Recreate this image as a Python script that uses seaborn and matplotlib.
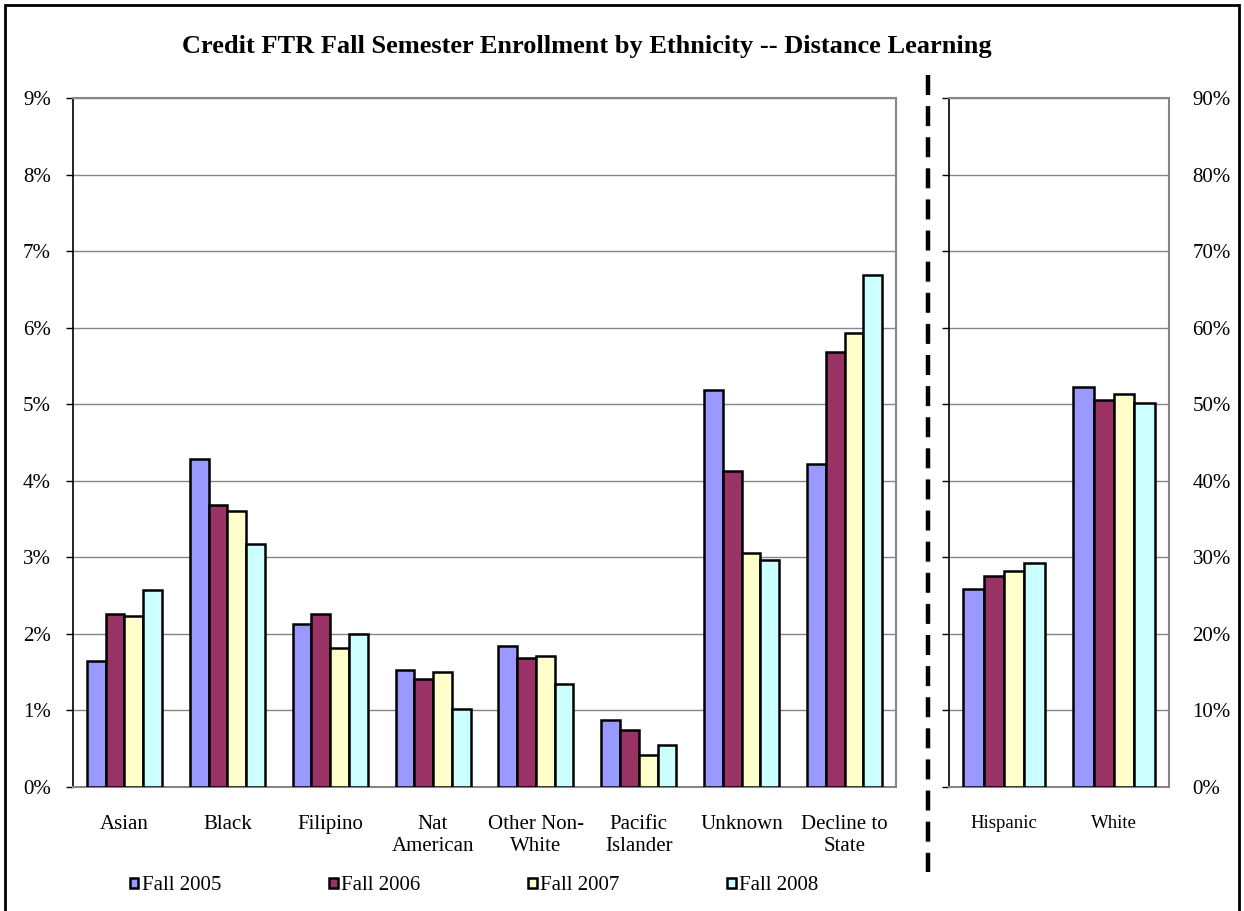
import numpy as np
import pandas as pd
import seaborn as sns
import matplotlib.pyplot as plt
from matplotlib.ticker import PercentFormatter
from matplotlib.patches import Patch, Rectangle
from matplotlib.lines import Line2D

# data (percent of enrollment)
years = ['Fall 2005', 'Fall 2006', 'Fall 2007', 'Fall 2008']
colors = ['#9999FF', '#993366', '#FFFFCC', '#CCFFFF']

cats_left = ['Asian', 'Black', 'Filipino', 'Nat\nAmerican', 'Other Non-\nWhite',
             'Pacific\nIslander', 'Unknown', 'Decline to\nState']
f2005 = [1.65, 4.28, 2.13, 1.53, 1.84, 0.87, 5.18, 4.22]
f2006 = [2.26, 3.68, 2.26, 1.41, 1.68, 0.74, 4.13, 5.68]
f2007 = [2.23, 3.61, 1.81, 1.50, 1.71, 0.42, 3.06, 5.93]
f2008 = [2.57, 3.17, 2.00, 1.02, 1.34, 0.55, 2.96, 6.69]

cats_right = ['Hispanic', 'White']
r2005 = [25.9, 52.2]
r2006 = [27.5, 50.5]
r2007 = [28.2, 51.3]
r2008 = [29.3, 50.1]


def long_df(cats, series):
    rows = []
    for yr, vals in zip(years, series):
        for c, v in zip(cats, vals):
            rows.append({'cat': c, 'year': yr, 'val': v})
    return pd.DataFrame(rows)


df_left = long_df(cats_left, [f2005, f2006, f2007, f2008])
df_right = long_df(cats_right, [r2005, r2006, r2007, r2008])

sns.set_style('white')
plt.rcParams['font.family'] = ['Liberation Serif', 'DejaVu Serif']
plt.rcParams['text.color'] = 'black'
plt.rcParams['xtick.color'] = 'black'
plt.rcParams['ytick.color'] = 'black'
plt.rcParams['xtick.labelcolor'] = 'black'
plt.rcParams['ytick.labelcolor'] = 'black'

grid_c = '#868686'
W, H = 1244, 911
fig = plt.figure(figsize=(W / 100, H / 100), dpi=100)

ax1 = fig.add_axes([73 / W, 1 - 787 / H, (896 - 73) / W, (787 - 98) / H])
ax2 = fig.add_axes([949 / W, 1 - 787 / H, (1169 - 949) / W, (787 - 98) / H])

sns.barplot(data=df_left, x='cat', y='val', hue='year', palette=colors,
            saturation=1, width=0.73, edgecolor='black', linewidth=1.8,
            ax=ax1, legend=False, errorbar=None, zorder=3)
sns.barplot(data=df_right, x='cat', y='val', hue='year', palette=colors,
            saturation=1, width=0.74, edgecolor='black', linewidth=1.8,
            ax=ax2, legend=False, errorbar=None, zorder=3)

for ax, n, top, step, xfs in [(ax1, 8, 9, 1, 15), (ax2, 2, 90, 10, 13.5)]:
    ax.set_xlim(-0.5, n - 0.5)
    ax.set_ylim(0, top)
    ax.set_yticks(np.arange(0, top + step / 2, step))
    ax.yaxis.set_major_formatter(PercentFormatter(decimals=0))
    ax.set_xlabel('')
    ax.set_ylabel('')
    ax.grid(axis='y', color=grid_c, linewidth=1, zorder=0)
    ax.set_axisbelow(True)
    ax.set_xticks(np.arange(-0.5, n, 1), minor=True)
    ax.tick_params(axis='x', which='major', length=0, pad=20, labelsize=xfs)
    ax.tick_params(axis='x', which='minor', length=5, color=grid_c, width=1)
    for lab in ax.get_xticklabels():
        lab.set_linespacing(1.22)
    for s in ['top', 'right', 'bottom']:
        ax.spines[s].set_color(grid_c)
        ax.spines[s].set_linewidth(1.5)
    ax.spines['left'].set_color('black')
    ax.spines['left'].set_linewidth(1.2)

ax1.tick_params(axis='y', length=5, width=1, color='black', pad=11, labelsize=15,
                left=True)
ax2.tick_params(axis='y', left=True, right=False, labelleft=False, labelright=True,
                length=5, width=1, color='black', pad=12, labelsize=15)

fig.text(0.472, 1 - 47 / H,
         'Credit FTR Fall Semester Enrollment by Ethnicity -- Distance Learning',
         ha='center', va='center', fontsize=19, fontweight='bold')

# dashed divider between the two panels
fig.add_artist(Line2D([928 / W, 928 / W], [1 - 75 / H, 1 - 872 / H],
                      transform=fig.transFigure, color='black', linewidth=3.2,
                      linestyle=(0, (4.5, 2.5))))

# outer frame
fig.add_artist(Rectangle((5 / W, -0.01), 1 - 10 / W, 1 - 5 / H + 0.01,
                         transform=fig.transFigure, fill=False,
                         edgecolor='black', linewidth=2))

handles = [Patch(facecolor=c, edgecolor='black', linewidth=1.8) for c in colors]
fig.legend(handles, years, loc='center', bbox_to_anchor=(0.381, 1 - 886 / H),
           ncol=4, frameon=False, fontsize=15, handlelength=0.42,
           handleheight=0.42, handletextpad=0.15, columnspacing=5.18)

fig.savefig('out.png', dpi=100)
